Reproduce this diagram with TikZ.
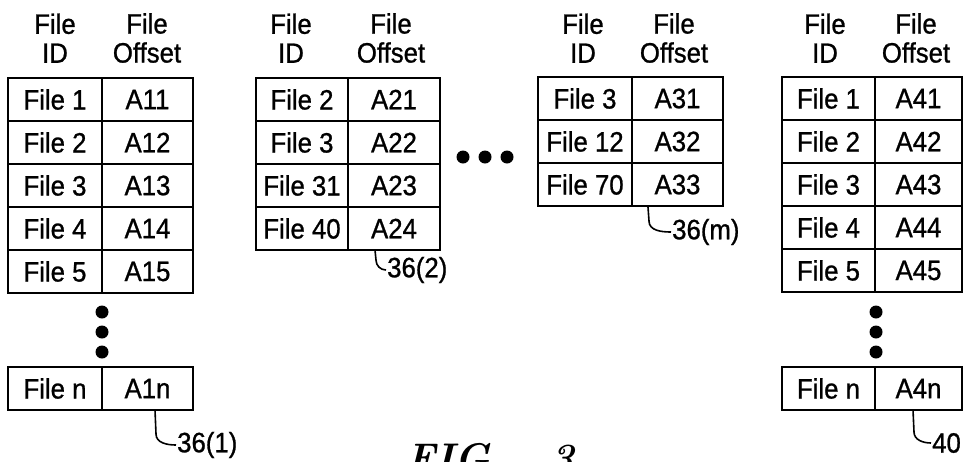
\documentclass[tikz,border=0pt]{standalone}
\usepackage{fontspec}
\newfontfamily\figfont[FakeStretch=0.92, FakeBold=0.9]{Liberation Sans}

\begin{document}
\begin{tikzpicture}[x=1pt, y=1pt,
  cell/.style={draw, line width=2.4pt, minimum height=43pt, inner sep=0pt,
    font=\figfont\fontsize{28}{30}\selectfont},
  head/.style={align=center, inner sep=0pt, anchor=south,
    font=\figfont\fontsize{28}{29}\selectfont},
  tag/.style={anchor=west, inner sep=1pt, font=\figfont\fontsize{28}{30}\selectfont},
  leader/.style={line width=1.6pt}
]

  \useasboundingbox (0,0) rectangle (964,-461);
  \clip (0,0) rectangle (964,-461);

  % Table 36(1)
  \node[head] (h1id) at (55,-63) {File\\ID};
  \node[head] (h1off) at (147,-63) {File\\Offset};
  \foreach \id/\off [count=\r] in {File 1/A11, File 2/A12, File 3/A13, File 4/A14, File 5/A15} {
    \node[cell, minimum width=94pt] (t1id\r) at (55,{-56.5-43*\r}) {\id};
    \node[cell, minimum width=91pt] (t1off\r) at (147.5,{-56.5-43*\r}) {\off};
  }
  \foreach \y in {312,332,352} \fill (102,-\y) circle (6.5);
  \node[cell, minimum width=94pt] (t1idn) at (55,-388.5) {File n};
  \node[cell, minimum width=91pt] (t1offn) at (147.5,-388.5) {A1n};

  % Table 36(2)
  \node[head] (h2id) at (291,-63) {File\\ID};
  \node[head] (h2off) at (391,-63) {File\\Offset};
  \foreach \id/\off [count=\r] in {File 2/A21, File 3/A22, File 31/A23, File 40/A24} {
    \node[cell, minimum width=92pt] (t2id\r) at (302,{-56.5-43*\r}) {\id};
    \node[cell, minimum width=92pt] (t2off\r) at (394,{-56.5-43*\r}) {\off};
  }

  % Dots between tables
  \foreach \x in {463,485,507} \fill (\x,-157) circle (6.5);

  % Table 36(m)
  \node[head] (h3id) at (583,-63) {File\\ID};
  \node[head] (h3off) at (674,-63) {File\\Offset};
  \foreach \id/\off [count=\r] in {File 3/A31, File 12/A32, File 70/A33} {
    \node[cell, minimum width=94pt] (t3id\r) at (585,{-55.5-43*\r}) {\id};
    \node[cell, minimum width=91pt] (t3off\r) at (677.5,{-55.5-43*\r}) {\off};
  }

  % Table 40
  \node[head] (h4id) at (825,-63) {File\\ID};
  \node[head] (h4off) at (916,-63) {File\\Offset};
  \foreach \id/\off [count=\r] in {File 1/A41, File 2/A42, File 3/A43, File 4/A44, File 5/A45} {
    \node[cell, minimum width=93pt] (t4id\r) at (828.5,{-55.5-43*\r}) {\id};
    \node[cell, minimum width=87pt] (t4off\r) at (918.5,{-55.5-43*\r}) {\off};
  }
  \foreach \y in {312,332,352} \fill (876,-\y) circle (6.5);
  \node[cell, minimum width=93pt] (t4idn) at (828.5,-388.5) {File n};
  \node[cell, minimum width=87pt] (t4offn) at (918.5,-388.5) {A4n};

  % Reference labels
  \coordinate (c1) at (155,-410);
  \node[tag] (l1) at (176,-445) {36(1)};
  \draw[leader] (c1) -- ++(1,-24) to[out=-90,in=180] (l1.west);

  \coordinate (c2) at (375,-250);
  \node[tag] (l2) at (386,-270) {36(2)};
  \draw[leader] (c2) -- ++(1,-10) to[out=-90,in=180] (l2.west);

  \coordinate (c3) at (648,-207);
  \node[tag] (l3) at (671,-232) {36(m)};
  \draw[leader] (c3) -- ++(1,-14) to[out=-90,in=180] (l3.west);

  \coordinate (c4) at (913,-410);
  \node[tag] (l4) at (931,-443) {40};
  \draw[leader] (c4) -- ++(1,-22) to[out=-90,in=180] (l4.west);

  % Caption, cut by the lower edge
  \node[anchor=base west, inner sep=0pt, font=\fontsize{40}{44}\selectfont\bfseries\itshape]
    (fig) at (406,-471) {FIG.\hspace{1.15em}3};

\end{tikzpicture}
\end{document}
